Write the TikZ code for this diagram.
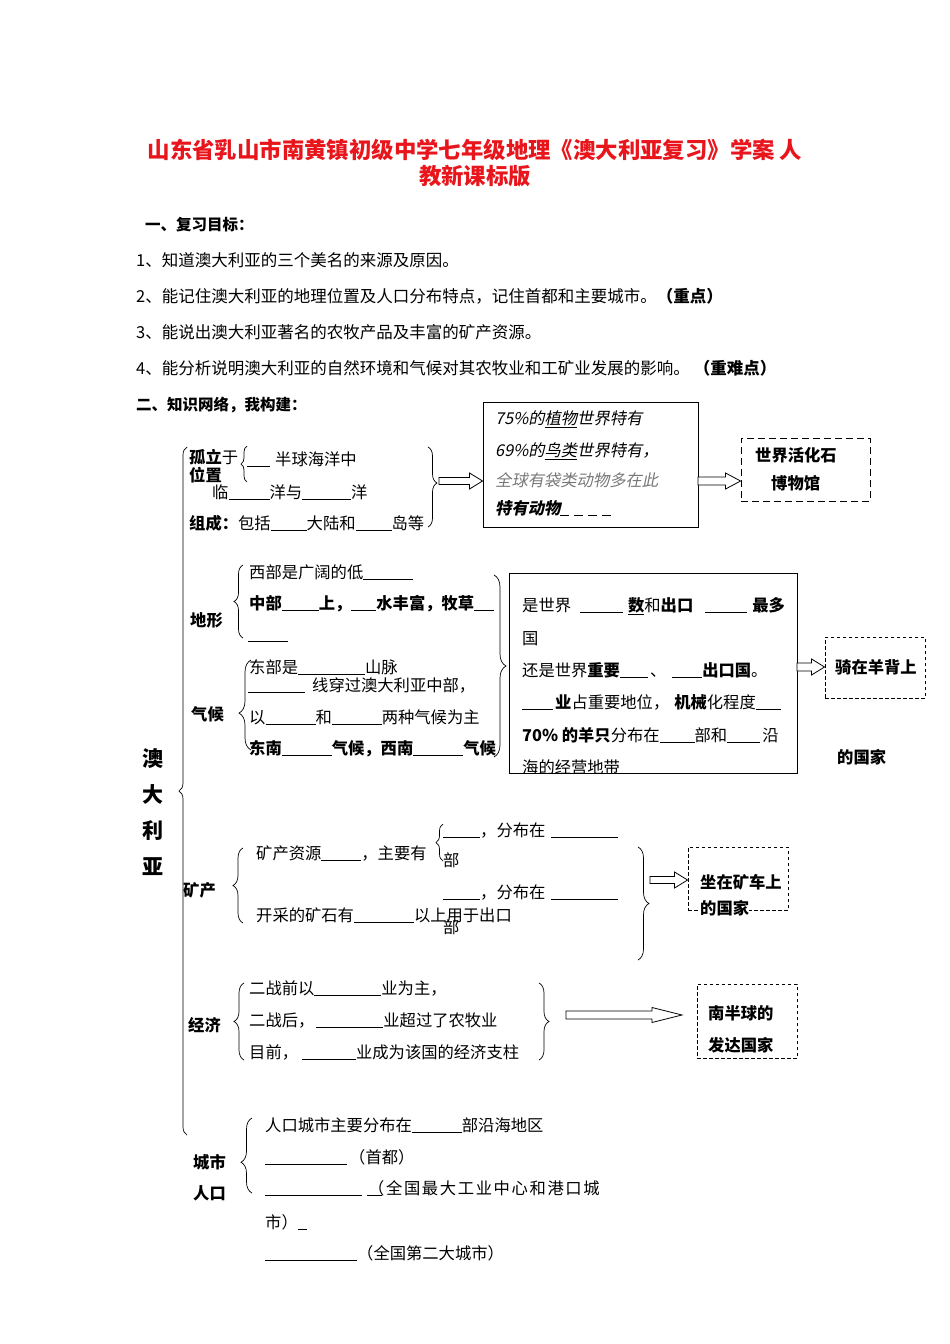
\documentclass[tikz,border=0pt]{standalone}
\usepackage{fontspec}
\setmainfont{Noto Sans CJK SC}
\newfontfamily\slcjk{Noto Sans CJK SC}[FakeSlant=0.2]
\usetikzlibrary{positioning,calc,decorations.pathreplacing}
\definecolor{titlered}{RGB}{232,22,28}
\definecolor{greytext}{RGB}{120,120,120}
\newcommand{\bodyfont}{\fontsize{16.3}{19}\selectfont}
\newcommand{\bl}[1]{\rule[-1.5pt]{#1pt}{0.7pt}}
% hollow arrow: start, end, shaft half width, head half width, head length
\newcommand{\fatarrow}[5]{%
  \draw[line width=0.8pt, fill=white] let \p1=(#1), \p2=(#2) in
    (\x1,{\y1+#3pt}) -- ({\x2-#5pt},{\y1+#3pt}) -- ({\x2-#5pt},{\y1+#4pt}) -- (\x2,\y1)
    -- ({\x2-#5pt},{\y1-#4pt}) -- ({\x2-#5pt},{\y1-#3pt}) -- (\x1,{\y1-#3pt}) -- cycle;}
\tikzset{
  txt/.style={anchor=west, inner sep=0pt, text height=14pt, text depth=2pt, font=\bodyfont},
  lbl/.style={txt, font=\bodyfont\bfseries},
  solidbox/.style={draw, line width=0.9pt, inner sep=0pt},
  dashbox/.style={draw, line width=0.9pt, dash pattern=on 3.5pt off 2.5pt, inner sep=0pt},
  curly/.style={decorate, decoration={brace, amplitude=#1}, line width=0.7pt}
}
\begin{document}
\begin{tikzpicture}[x=1pt, y=-1pt]
  \useasboundingbox (0,0) rectangle (950,1344);

  % title and aims
  \node[font=\fontsize{22.4}{26}\selectfont\bfseries, text=titlered] (title) at (475,150)
    {山东省乳山市南黄镇初级中学七年级地理《澳大利亚复习》学案\ 人};
  \node[font=\fontsize{22.4}{26}\selectfont\bfseries, text=titlered] (title2) at (475,176) {教新课标版};
  \node[lbl, font=\fontsize{15.5}{18}\selectfont\bfseries] (aims) at (145,224) {一、复习目标：};
  \node[txt, font=\fontsize{16.5}{19}\selectfont] (aim1) at (136,260) {1、知道澳大利亚的三个美名的来源及原因。};
  \node[txt, font=\fontsize{16.5}{19}\selectfont] (aim2) at (136,296) {2、能记住澳大利亚的地理位置及人口分布特点，记住首都和主要城市。\textbf{（重点）}};
  \node[txt, font=\fontsize{16.5}{19}\selectfont] (aim3) at (136,332) {3、能说出澳大利亚著名的农牧产品及丰富的矿产资源。};
  \node[txt, font=\fontsize{16.5}{19}\selectfont] (aim4) at (136,368) {4、能分析说明澳大利亚的自然环境和气候对其农牧业和工矿业发展的影响。\hspace{4pt}\textbf{（重难点）}};
  \node[lbl, font=\fontsize{15.5}{18}\selectfont\bfseries] (net) at (136,404) {二、知识网络，我构建：};

  % main brace
  \draw[curly=8pt] (187,1135) -- (187,447);
  \node[font=\fontsize{21}{36}\selectfont\bfseries, align=center, inner sep=0pt] (aus) at (153,812) {澳\\大\\利\\亚};

  % position
  \node[txt] (gl) at (189,457) {\textbf{孤立}于};
  \node[lbl] (wz) at (189,475) {位置};
  \draw[curly=6pt] (247,482) -- (247,446);
  \node[txt] (gl2) at (247,459) {\bl{23}\hspace{5pt}半球海洋中};
  \node[txt] (lin) at (212,492) {临\bl{41}洋与\bl{49}洋};
  \node[txt] (zc) at (189,523) {\textbf{组成：}包括\bl{36}大陆和\bl{36}岛等};
  \draw[curly=9pt, decoration={aspect=0.45}] (428,447) -- (428,527);

  \node[solidbox, minimum width=215pt, minimum height=125pt] (fauna) at (590.5,464.5) {};
  \node[txt] (f1) at (495,418) {\slcjk 75\%的\underline{植物}世界特有};
  \node[txt] (f2) at (495,450) {\slcjk 69\%的\underline{鸟类}世界特有，};
  \node[txt, text=greytext] (f3) at (495,480) {\slcjk 全球有袋类动物多在此};
  \node[txt] (f4) at (495,508) {\slcjk\bfseries 特有动物\bl{9}\hspace{5pt}\bl{9}\hspace{5pt}\bl{9}\hspace{5pt}\bl{9}};
  \coordinate (s1) at (439,481);
  \fatarrow{s1}{fauna.west}{3.5}{8}{13}

  \node[dashbox, dash pattern=on 7pt off 4pt, minimum width=129pt, minimum height=63pt] (fossil) at (805.5,469.5) {};
  \node[lbl] (fs1) at (755,455) {世界活化石};
  \node[lbl] (fs2) at (771,483) {博物馆};
  \coordinate (s2) at (698,481);
  \fatarrow{s2}{fossil.west}{4}{8}{15}

  % relief and climate
  \node[lbl] (dx) at (190,620) {地形};
  \draw[curly=9pt] (243,638) -- (243,565);
  \node[txt] (t1) at (249,572) {西部是广阔的低\bl{50}};
  \node[txt] (t2) at (249,603) {\textbf{中部\bl{37}上，\bl{25}水丰富，牧草\bl{20}}};
  \node[txt] (t3) at (248,634) {\bl{40}};
  \node[txt] (dm) at (249,667) {东部是\bl{67}山脉};
  \node[txt] (hx) at (248,685) {\bl{57}\hspace{7pt}线穿过澳大利亚中部，};
  \node[txt] (qh1) at (249,717) {以\bl{50}和\bl{50}两种气候为主};
  \node[txt] (qh2) at (249,748) {\textbf{东南\bl{50}气候，西南\bl{50}气候}};
  \node[lbl] (qh) at (191,714) {气候};
  \draw[curly=12pt, decoration={aspect=0.41}] (251,750) -- (251,660);
  \draw[curly=12pt] (494,575) -- (494,757);

  % farming box
  \node[solidbox, minimum width=288pt, minimum height=200pt] (farm) at (653,673) {};
  \node[txt] (m1) at (522,605) {是世界\hspace{9pt}\bl{43}\hspace{5pt}\textbf{\underline{数}}和\textbf{出口}\hspace{12pt}\bl{42}\hspace{5pt}\textbf{最多}};
  \node[txt] (m2) at (522,638) {国};
  \node[txt] (m3) at (522,670) {还是世界\textbf{重要}\bl{28}\hspace{2pt}、\hspace{6pt}\bl{30}\textbf{出口国}。};
  \node[txt] (m4) at (522,702) {\bl{31}\hspace{2pt}\textbf{业}占重要地位，\hspace{5pt}\textbf{机械}化程度\bl{25}};
  \node[txt] (m5) at (522,735) {\textbf{70\% 的羊只}分布在\bl{35}部和\bl{33}\hspace{2pt}沿};
  \begin{scope}
    \clip (509,573) rectangle (797,773);
    \node[txt] (m6) at (522,767) {海的经营地带};
  \end{scope}
  \node[dashbox, minimum width=100pt, minimum height=61pt] (sheep) at (875,667.5) {};
  \node[lbl] (sp) at (835,667) {骑在羊背上};
  \node[lbl] (sp2) at (837,757) {的国家};
  \coordinate (s3) at (797,667);
  \fatarrow{s3}{sheep.west}{4}{8}{13}

  % minerals
  \node[lbl] (kc) at (183,890) {矿产};
  \draw[curly=10pt] (243,923) -- (243,848);
  \node[txt] (k1) at (256,853) {矿产资源\bl{40}，主要有};
  \draw[curly=7pt] (443,861) -- (443,824);
  \node[txt] (k2) at (443,830) {\bl{37}，分布在\hspace{6pt}\bl{67}};
  \node[txt] (bu1) at (443,860) {部};
  \node[txt] (k3) at (443,892) {\bl{37}，分布在\hspace{6pt}\bl{67}};
  \node[txt] (k4) at (256,915) {开采的矿石有\bl{60}以上用于出口};
  \node[txt] (bu2) at (443,927) {部};
  \draw[curly=11pt] (638,847) -- (638,960);
  \node[dashbox, minimum width=100pt, minimum height=63pt] (mine) at (738,878.5) {};
  \node[lbl] (mn) at (700,882) {坐在矿车上};
  \node[lbl, fill=white] (mn2) at (700,908) {的国家};
  \coordinate (s4) at (650,880);
  \fatarrow{s4}{mine.west}{3.5}{8}{13}

  % economy
  \node[lbl] (jj) at (188,1025) {经济};
  \draw[curly=10pt] (244,1060) -- (244,983);
  \node[txt] (e1) at (249,988) {二战前以\bl{67}业为主，};
  \node[txt] (e2) at (249,1020) {二战后，\hspace{2pt}\bl{67}业超过了农牧业};
  \node[txt] (e3) at (249,1052) {目前，\hspace{4pt}\bl{54}业成为该国的经济支柱};
  \draw[curly=10pt] (539,983) -- (539,1060);
  \node[dashbox, minimum width=100pt, minimum height=74pt] (rich) at (747,1021) {};
  \node[lbl] (rc1) at (708,1013) {南半球的};
  \node[lbl] (rc2) at (708,1045) {发达国家};
  \coordinate (s5) at (566,1015);
  \coordinate (e5) at (682,1015);
  \fatarrow{s5}{e5}{4}{7.5}{30}

  % cities and population
  \node[lbl] (cs) at (193,1162) {城市};
  \node[lbl] (rk) at (193,1193) {人口};
  \draw[curly=11pt, decoration={aspect=0.41}] (252,1193) -- (252,1118);
  \node[txt] (p1) at (265,1125) {人口城市主要分布在\bl{50}部沿海地区};
  \node[txt] (p2) at (265,1157) {\bl{82}\hspace{2pt}（首都）};
  \node[txt] (p3) at (265,1188) {\bl{97}\hspace{5pt}\bl{15}\hspace{-14pt}{\addfontfeature{LetterSpace=10}（全国最大工业中心和港口城}};
  \node[txt] (p4) at (265,1222) {市）\bl{9}};
  \node[txt] (p5) at (265,1253) {\bl{92}（全国第二大城市）};
\end{tikzpicture}
\end{document}
